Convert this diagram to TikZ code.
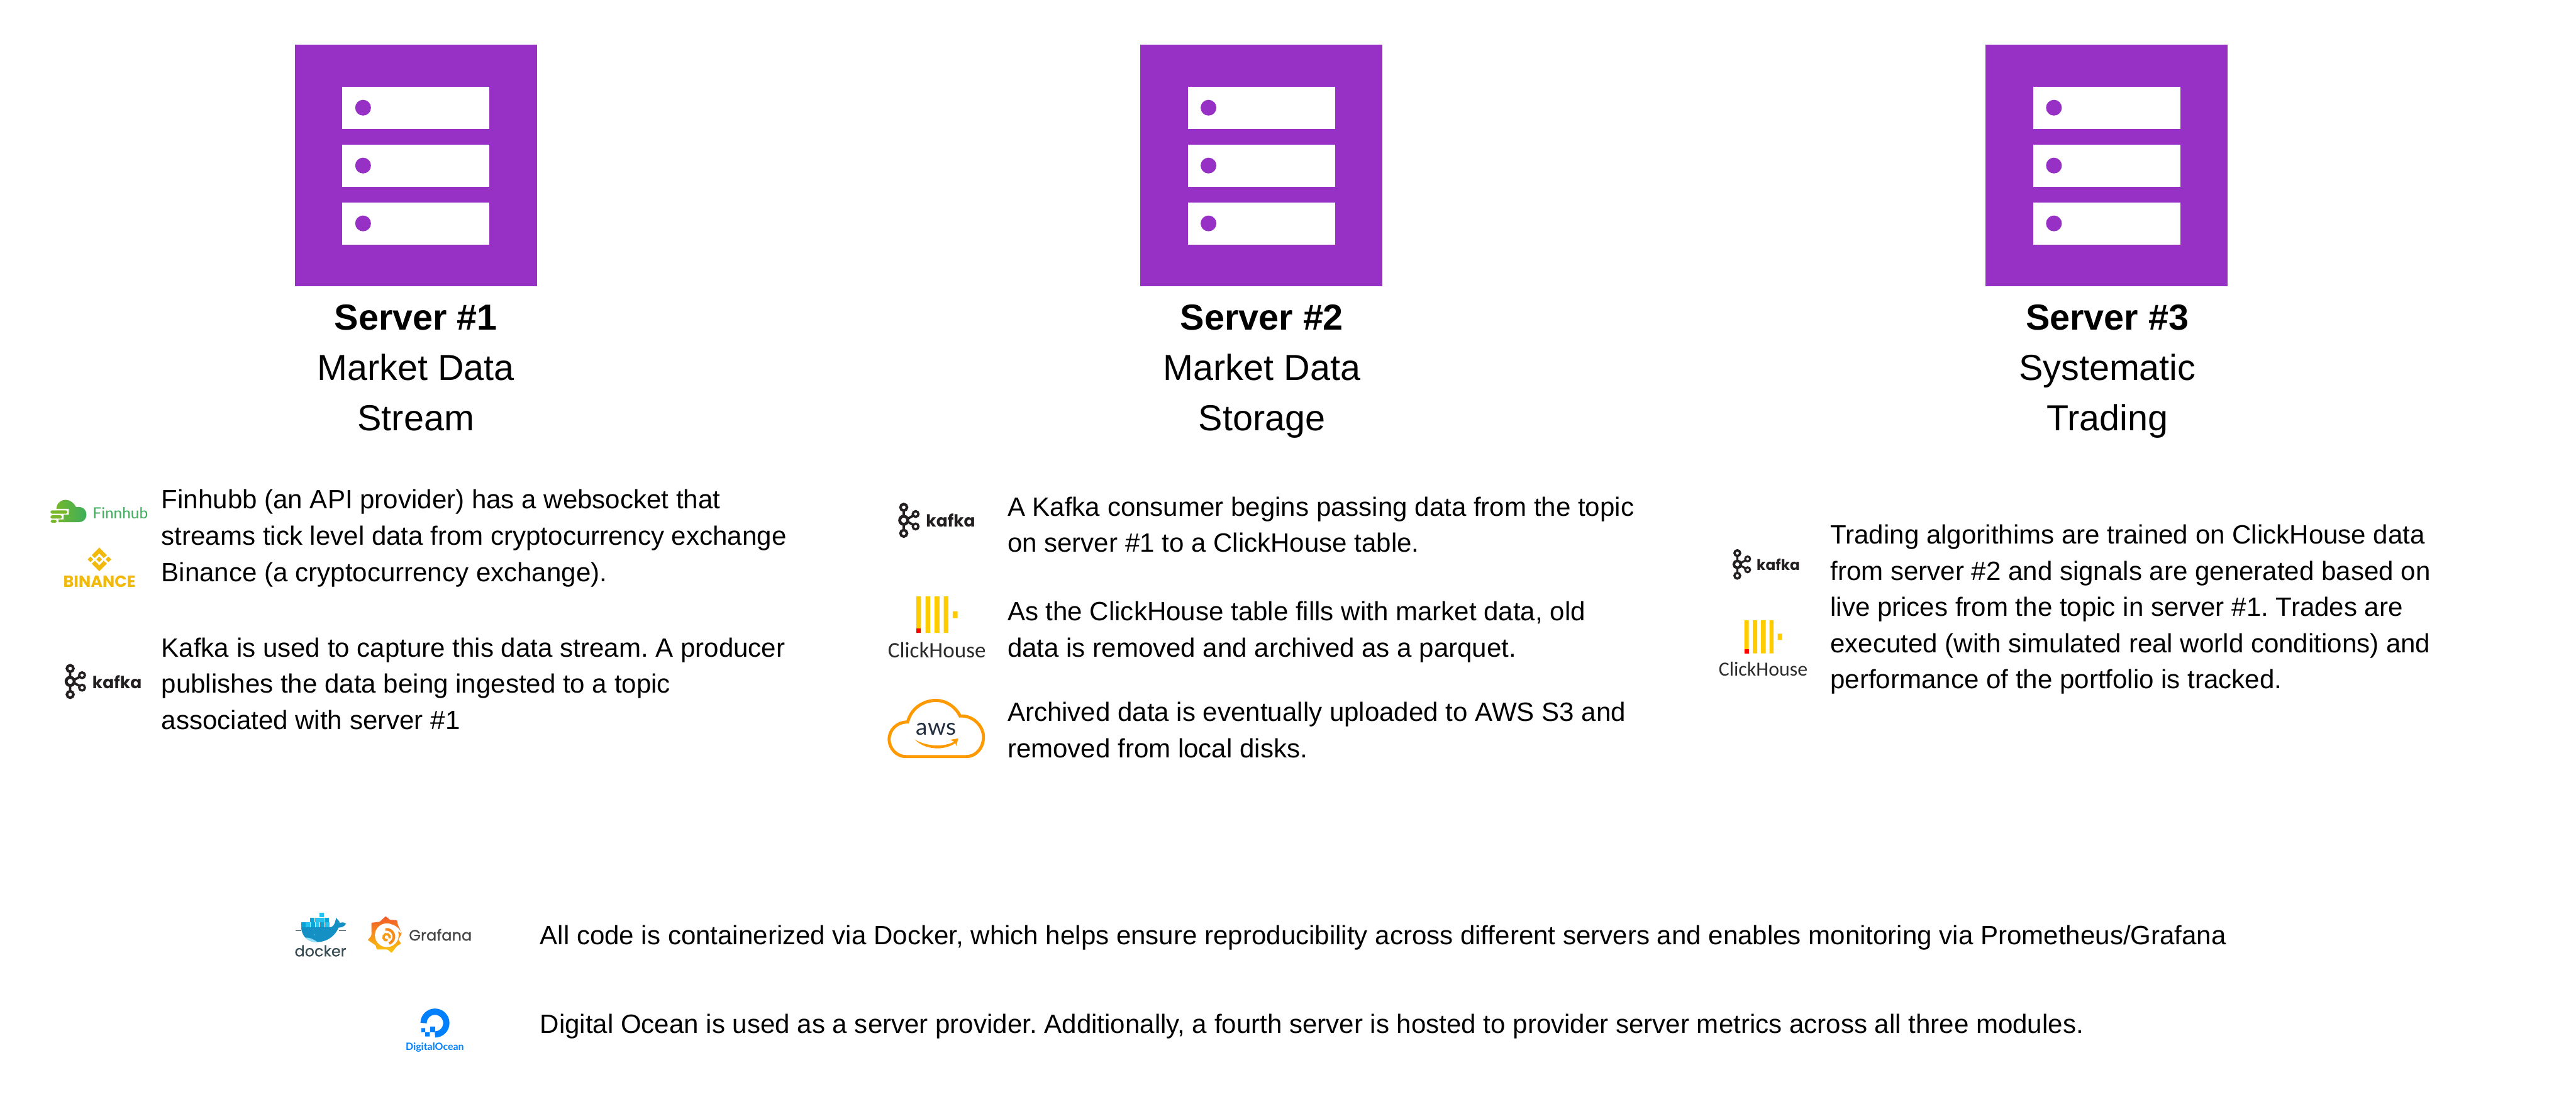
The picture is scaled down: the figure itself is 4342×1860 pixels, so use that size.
\documentclass[tikz,border=0pt]{standalone}
\usepackage{fontspec}
\usepackage{graphicx}
\setmainfont{Liberation Sans}
\newfontfamily\popf{Poppins}
\newfontfamily\popfb[FakeBold=0.8]{Poppins}
\newfontfamily\thinf{Carlito}
\newfontfamily\latof{Lato}
\definecolor{srv}{HTML}{9730C4}
\definecolor{kfk}{HTML}{231F20}
\definecolor{chy}{HTML}{FFCC00}
\definecolor{chg}{HTML}{2B2B2B}
\definecolor{awso}{HTML}{FF9900}
\definecolor{awsn}{HTML}{232F3E}
\definecolor{fgr}{HTML}{3DAE5B}
\definecolor{fgl}{HTML}{76B82A}
\definecolor{bny}{HTML}{F0B90B}
\definecolor{doc}{HTML}{0080FF}
\definecolor{dk}{HTML}{384D54}
\definecolor{dka}{HTML}{0DA5D8}
\definecolor{dkb}{HTML}{27C2F0}
\definecolor{dkw}{HTML}{1490C4}
\definecolor{grg}{HTML}{464646}
\definecolor{gra}{HTML}{F15A29}
\definecolor{grb}{HTML}{FBC70E}
\tikzset{
  txt/.style={anchor=west,align=left,inner sep=0pt,font=\fontsize{44.6}{61}\selectfont\frenchspacing},
  head/.style={anchor=center,align=center,inner sep=0pt,font=\fontsize{61}{84.5}\selectfont},
  lbl/.style={anchor=base west,inner sep=0pt,outer sep=0pt}
}
\newcommand\serverbox[2]{%
  \begin{scope}[shift={(#1,0)}]
    \fill[srv] (497,75) rectangle (905,482);
    \foreach \yy in {146,243.5,341}{
      \fill[white] (577,\yy) rectangle (825,\yy+71);
      \fill[srv] (612,\yy+35.5) circle (13.3);
    }
  \end{scope}}
\newcommand\kafkalogo[5]{% name,x,y,scale,textwidth
  \begin{scope}[shift={(#2,#3)},scale=#4]
    \draw[kfk,line width=#4*5pt] (0,0) circle (6.8);
    \draw[kfk,line width=#4*4.4pt] (0,-21.8) circle (5.5) (0,22) circle (5.5);
    \draw[kfk,line width=#4*3.8pt] (20,-10.5) circle (4.8) (20,10.5) circle (4.8);
    \draw[kfk,line width=#4*4pt] (0,-16) -- (0,-7) (0,16) -- (0,7) (6.5,-2.5) -- (15.5,-7.5) (6.5,2.5) -- (15.5,7.5);
    \node[lbl,text=kfk] (#1) at (37.5,11.6) {\resizebox{#5}{!}{\popf\bfseries\fontsize{32}{32}\selectfont kafka}};
  \end{scope}}
\newcommand\chlogo[5]{% name,x,y,scale,textwidth
  \begin{scope}[shift={(#2,#3)},scale=#4]
    \fill[chy] (0,0) rectangle (24,185) (47,0) rectangle (71,185) (92,0) rectangle (118,185) (139,0) rectangle (162,185) (185,75) rectangle (209,110);
    \fill[red] (1,162) rectangle (24,185);
    \node[lbl,text=chg] (#1) at (-143,310) {\resizebox{#5}{!}{\thinf\fontsize{38}{38}\selectfont ClickHouse}};
  \end{scope}}
\begin{document}
\begin{tikzpicture}[x=1pt,y=-1pt]
\useasboundingbox (0,0) rectangle (4342,1860);
\fill[white] (0,0) rectangle (4342,1860);
% servers
\serverbox{0}{}
\serverbox{1425}{}
\serverbox{2850}{}
\node[head] (h1) at (701,626) {\textbf{Server \#1}\\Market Data\\Stream\vphantom{g}};
\node[head] (h2) at (2127,626) {\textbf{Server \#2}\\Market Data\\Storage};
\node[head] (h3) at (3552,626) {\textbf{Server \#3}\\Systematic\\Trading};
% texts
\node[txt] (t1a) at (272,907) {Finhubb (an API provider) has a websocket that\\streams tick level data from cryptocurrency exchange\\Binance (a cryptocurrency exchange).};
\node[txt] (t1b) at (272,1152) {Kafka is used to capture this data stream. A producer\\publishes the data being ingested to a topic\\associated with server \#1};
\node[txt] (t2a) at (1698,884) {A Kafka consumer begins passing data from the topic\\on server \#1 to a ClickHouse table.};
\node[txt] (t2b) at (1698,1065) {As the ClickHouse table fills with market data, old\\data is removed and archived as a parquet.};
\node[txt] (t2c) at (1698,1230) {Archived data is eventually uploaded to AWS S3 and\\removed from local disks.};
\node[txt] (t3) at (3085,1027) {Trading algorithims are trained on ClickHouse data\\from server \#2 and signals are generated based on\\live prices from the topic in server \#1. Trades are\\executed (with simulated real world conditions) and\\performance of the portfolio is tracked.};
\node[txt] (t4) at (910,1580) {All code is containerized via Docker, which helps ensure reproducibility across different servers and enables monitoring via Prometheus/Grafana};
\node[txt] (t5) at (910,1730) {Digital Ocean is used as a server provider. Additionally, a fourth server is hosted to provider server metrics across all three modules.};
% kafka
\kafkalogo{k1}{118.3}{1148.3}{1}{83pt}
\kafkalogo{k2}{1523.3}{876.7}{1}{83pt}
\kafkalogo{k3}{2928.3}{951}{0.87}{73pt}
% clickhouse
\chlogo{c2}{1544.3}{1005}{0.3333}{165pt}
\chlogo{c3}{2940.3}{1045}{0.3033}{150pt}
% finnhub
\begin{scope}[shift={(60,780)},scale=0.3333]
  \shade[left color=fgl,right color=fgr] (118,300)
     .. controls (100,290) and (95,255) .. (105,235)
     .. controls (105,200) and (135,185) .. (155,187)
     .. controls (178,188) and (195,205) .. (205,224)
     .. controls (235,218) and (257,235) .. (257,262)
     .. controls (257,285) and (240,300) .. (218,300) -- cycle;
  \fill[white] (70,232) -- (168,232) -- (168,262) -- (142,262) -- (142,286) -- (115,286) -- (115,306) -- (70,306) -- cycle;
  \fill[fgl,rounded corners=2pt] (76,240) rectangle (160,257);
  \fill[fgl,rounded corners=2pt] (76,265) rectangle (133,282);
  \fill[fgl,rounded corners=2pt] (76,288) rectangle (107,302);
  \node[lbl,text=fgr] (fh) at (289,282) {\resizebox{93pt}{!}{\latof\fontsize{30}{30}\selectfont Finnhub}};
  % binance
  \fill[bny] (322,474) -- (336,488) -- (322,502) -- (308,488) -- cycle;
  \fill[bny] (277,474) -- (291,488) -- (277,502) -- (263,488) -- cycle;
  \fill[bny] (368,474) -- (383,488) -- (368,502) -- (354,488) -- cycle;
  \fill[bny] (322,428) -- (361,467) -- (344,481) -- (322,458) -- (300,481) -- (284,467) -- cycle;
  \fill[bny] (322,548) -- (361,509) -- (344,495) -- (322,518) -- (300,495) -- (284,509) -- cycle;
  \node[lbl,text=bny] (bn) at (140,628) {\resizebox{122pt}{!}{\popf\bfseries\fontsize{24}{24}\selectfont BINANCE}};
\end{scope}
% aws
\begin{scope}[shift={(1460,820)},scale=0.3333]
  \draw[awso,line width=5.2pt] (200,1365) -- (505,1365)
     .. controls (560,1365) and (595,1315) .. (593,1262)
     .. controls (590,1205) and (535,1155) .. (475,1160)
     .. controls (450,1110) and (400,1080) .. (350,1081)
     .. controls (285,1082) and (225,1125) .. (210,1190)
     .. controls (155,1190) and (115,1230) .. (116,1280)
     .. controls (117,1325) and (155,1365) .. (200,1365) -- cycle;
  \node[lbl,text=awsn] (aw) at (253,1255) {\resizebox{67pt}{!}{\latof\fontsize{44}{44}\selectfont aws}};
  \fill[awso] (245,1278) .. controls (300,1312) and (390,1322) .. (452,1286) -- (456,1294) .. controls (390,1340) and (295,1330) .. (245,1278) -- cycle;
  \fill[awso] (425,1280) -- (466,1273) -- (455,1312) -- (450,1292) -- cycle;
\end{scope}
% docker, grafana, digitalocean
\begin{scope}[shift={(480,1500)},scale=0.3333]
  \foreach \x/\c in {83/dka,107/dkb,131/dka,155/dkb,179/dka,203/dkb}{\fill[\c] (\x,163) rectangle +(22,23);}
  \foreach \x/\c in {129/dka,153/dkb,177/dkb,201/dka}{\fill[\c] (\x,139) rectangle +(22,22);}
  \fill[dkb] (175,114) rectangle (199,137);
  \fill[dkw] (83,188) -- (228,188) .. controls (245,188) and (255,170) .. (259,140) .. controls (270,150) and (278,160) .. (279,167) .. controls (290,160) and (300,163) .. (310,170) .. controls (298,188) and (285,188) .. (272,190) .. controls (250,240) and (205,263) .. (160,263) .. controls (120,263) and (85,235) .. (83,188) -- cycle;
  \fill[dkb!50!white] (103,240) .. controls (120,238) and (140,245) .. (165,262) .. controls (140,263) and (118,258) .. (103,240) -- cycle;
  \fill[white] (150,226) circle (2);
  \draw[dk,line width=0.8pt] (55,205) -- (83,205) (275,205) -- (310,205);
  \node[lbl,text=dk] (dc) at (50,335) {\resizebox{87pt}{!}{\popfb\fontsize{30}{30}\selectfont docker}};
  % grafana gear
  \shade[top color=gra,bottom color=grb,rounded corners=1pt]
     (510,132) -- (532,150) -- (568,152) -- (572,175) -- (592,218) -- (575,250) -- (588,270) -- (565,285) -- (540,318) -- (520,300) -- (465,300) -- (460,280) -- (420,252) -- (438,230) -- (438,165) -- (480,160) -- cycle;
  \fill[white] (516,228) circle (60);
  \fill[white] (545,174) .. controls (570,185) and (585,200) .. (592,220) .. controls (580,212) and (570,205) .. (560,205) -- cycle;
  \draw[gra!55!grb,line width=4.6pt] (508.6,198.6) arc (-100:70:37);
  \draw[gra!40!grb,line width=4pt] (520.5,253) arc (70:380:16);
  \node[lbl,text=grg] (gf) at (628,255) {\resizebox{106pt}{!}{\popfb\fontsize{28}{28}\selectfont Grafana}};
  % digitalocean
  \draw[doc,line width=10.6pt] (702,672) arc (180:450:57.5);
  \fill[doc] (735,690) rectangle (760,718) (710,718) rectangle (733,740) (690,698) rectangle (710,718);
  \node[lbl,text=doc] (do) at (612,808) {\resizebox{98pt}{!}{\latof\bfseries\fontsize{22}{22}\selectfont DigitalOcean}};
\end{scope}
\end{tikzpicture}
\end{document}
